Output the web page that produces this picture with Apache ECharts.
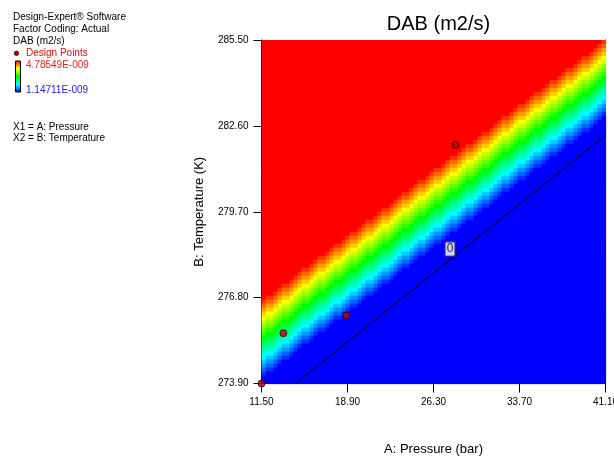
<!DOCTYPE html>
<html>
<head>
<meta charset="utf-8">
<script src="https://cdn.jsdelivr.net/npm/echarts@6/dist/echarts.min.js"></script>
<style>
html,body{margin:0;padding:0;background:#fff;}
#chart{width:614px;height:456px;}
</style>
</head>
<body>
<div id="chart"></div>
<script>
// ---- data ----
const pressureTicks = [11.5, 18.9, 26.3, 33.7, 41.1];          // A: Pressure (bar)
const temperatureTicks = [273.9, 276.8, 279.7, 282.6, 285.5];   // B: Temperature (K)
const dabMin = 1.14711e-9;
const dabMax = 4.78549e-9;
const gridCols = 86;
const gridRows = 86;
// colour level codes 0 (blue, <= min) .. K (red, >= max)
const levelCodes = "0123456789ABCDEFGHIJK";
// one entry per cell row, top (285.5 K) to bottom (273.9 K):
// "<number of red cells>|<graded cells>", the rest of the row is blue
const surfaceRows = [
"85|J",
"84|JI","83|JIH","82|JIHG","80|JJIHGF","79|JIIHGFE","78|JIHHGFED","76|JJIHGGFEDC","75|JIIHGFFEDCB",
"74|JIHHGFEEDCBA","72|JJIHGGFEDDCBA9","71|JIIHGFFEDCCBA98","70|JIHHGFEEDCBBA987","68|JJIHGGFEDDCBAA9876",
"67|JIIHGFFEDCCBA998765","66|JIHHGFEEDCBBA9887654","64|JJIHGGFEDDCBAA98776543","63|JIIHGFFEDCCBA9987665432",
"62|JIHHGFEEDCBBA98876554321","60|JJIHGGFEDDCBAA98776544321","59|JIIHGFFEDCCBA998766543321",
"58|JIHHGFEEDCBBA988765543221","57|JIHGGFEDDCBAA987765443211","55|JJIHGFFEDCCBA998766543321",
"54|JIIHGFEEDCBBA988765543221","53|JIHHGFEDDCBAA987765443211","51|JJIHGGFEDCCBA998766543321",
"50|JIIHGFFEDCBBA988765543221","49|JIHHGFEEDCBAA987765443211","47|JJIHGGFEDDCBA998766543321",
"46|JIIHGFFEDCCBA988765543221","45|JIHHGFEEDCBBA987765443211","43|JJIHGGFEDDCBAA98766543321",
"42|JIIHGFFEDCCBA998765543221","41|JIHHGFEEDCBBA988765443211","39|JJIHGGFEDDCBAA98776543321",
"38|JIIHGFFEDCCBA998766543221","37|JIHHGFEEDCBBA988765543211","35|JJIHGGFEDDCBAA98776544321",
"34|JIIHGFFEDCCBA998766543321","33|JIHHGFEEDCBBA988765543221","32|JIHGGFEDDCBAA987765443211",
"30|JJIHGFFEDCCBA998766543321","29|JIIHGFEEDCBBA988765543221","28|JIHHGFEDDCBAA987765443211",
"26|JJIHGGFEDCCBA998766543321","25|JIIHGFFEDCBBA988765543221","24|JIHHGFEEDCBAA987765443211",
"22|JJIHGGFEDDCBA998766543321","21|JIIHGFFEDCCBA988765543221","20|JIHHGFEEDCBBA987765443211",
"18|JJIHGGFEDDCBAA98766543321","17|JIIHGFFEDCCBA998765543221","16|JIHHGFEEDCBBA988765443211",
"14|JJIHGGFEDDCBAA98776543321","13|JIIHGFFEDCCBA998766543221","12|JIHHGFEEDCBBA988765543211",
"10|JJIHGGFEDDCBAA98776544321","9|JIIHGFFEDCCBA998766543321","8|JIHHGFEEDCBBA988765543221",
"7|JIHGGFEDDCBAA987765443211","5|JJIHGFFEDCCBA998766543321","4|JIIHGFEEDCBBA988765543221",
"3|JIHHGFEDDCBAA987765443211","1|JJIHGGFEDCCBA998766543321","0|JIIHGFFEDCBBA988765543221",
"0|IHHGFEEDCBAA987765443211","0|HGGFEDDCBA998766543321","0|GFFEDCCBA988765543221",
"0|FEEDCBBA987765443211","0|EDDCBAA98766543321","0|DCCBA998765543221","0|CBBA988765443211",
"0|BAA98776543321","0|A998766543221","0|988765543211","0|8776544321","0|766543321",
"0|65543221","0|5443211","0|43321","0|3221","0|211","0|1","0|","0|"
];
const surfaceColors = ['#0000ff', '#00ffff', '#00ff00', '#ffff00', '#ff0000'];
// design points
const designPressure = [11.5, 13.38, 18.8, 28.18];
const designTemperature = [273.9, 275.6, 276.2, 281.96];
// contour line DAB = 0
const contourPressure = [14.44, 41.1];
const contourTemperature = [273.9, 282.29];
const contourLabelPos = [27.72, 278.44];
const contourLabelText = '0';
const legendLines = ['Design-Expert\u00ae Software', 'Factor Coding: Actual', 'DAB (m2/s)'];
const factorLines = ['X1 = A: Pressure', 'X2 = B: Temperature'];

// ---- build chart ----
const FONT = '"Liberation Sans", Arial, Helvetica, sans-serif';
const pMin = pressureTicks[0], pMax = pressureTicks[pressureTicks.length - 1];
const tMin = temperatureTicks[0], tMax = temperatureTicks[temperatureTicks.length - 1];
const cellP = (pMax - pMin) / gridCols;
const cellT = (tMax - tMin) / gridRows;
const maxLevel = levelCodes.length - 1;

const cells = [];
surfaceRows.forEach(function (row, r) {
  const parts = row.split('|');
  const red = parseInt(parts[0], 10);
  const mid = parts[1];
  for (let c = 0; c < gridCols; c++) {
    let level;
    if (c < red) level = maxLevel;
    else if (c - red < mid.length) level = levelCodes.indexOf(mid[c - red]);
    else level = 0;
    const v = dabMin + (dabMax - dabMin) * level / maxLevel;
    cells.push([pMin + (c + 0.5) * cellP, tMax - (r + 0.5) * cellT, v]);
  }
});

const chart = echarts.init(document.getElementById('chart'), null, {renderer: 'canvas'});

const graphics = [];
legendLines.forEach(function (t, i) {
  graphics.push({type: 'text', left: 13, top: 12 + i * 12, style: {text: t, fill: '#000', font: '10px ' + FONT}});
});
graphics.push({type: 'circle', shape: {cx: 16.5, cy: 53.3, r: 2.2}, style: {fill: '#c00000', stroke: '#300', lineWidth: 0.8}});
graphics.push({type: 'text', left: 26, top: 48, style: {text: 'Design Points', fill: '#e01010', font: '10px ' + FONT}});
graphics.push({type: 'rect', shape: {x: 15.5, y: 61, width: 5, height: 31},
  style: {fill: {type: 'linear', x: 0, y: 0, x2: 0, y2: 1, colorStops: [
    {offset: 0, color: surfaceColors[4]}, {offset: 0.25, color: surfaceColors[3]},
    {offset: 0.5, color: surfaceColors[2]}, {offset: 0.75, color: surfaceColors[1]},
    {offset: 1, color: surfaceColors[0]}]}, stroke: '#000', lineWidth: 1}});
graphics.push({type: 'text', left: 26, top: 60, style: {text: dabMax.toExponential(5).replace('e-9', 'E-009'), fill: '#ff2020', font: '10px ' + FONT}});
graphics.push({type: 'text', left: 26, top: 85, style: {text: dabMin.toExponential(5).replace('e-9', 'E-009'), fill: '#2020ff', font: '10px ' + FONT}});
factorLines.forEach(function (t, i) {
  graphics.push({type: 'text', left: 13, top: 122 + i * 11, style: {text: t, fill: '#000', font: '10px ' + FONT}});
});

const borderAxis = {type: 'value', axisLine: {show: true, onZero: false, lineStyle: {color: '#000', width: 1}},
  axisTick: {show: false}, axisLabel: {show: false}, splitLine: {show: false}};

chart.setOption({
  animation: false,
  backgroundColor: '#fff',
  title: {text: 'DAB (m2/s)', left: 433.5, top: 9, textAlign: 'center',
    textStyle: {fontSize: 20, fontWeight: 'normal', color: '#000', fontFamily: FONT}},
  grid: {left: 261.5, top: 40, width: 344, height: 343.5, containLabel: false, outerBoundsMode: 'none'},
  graphic: graphics,
  visualMap: {type: 'continuous', show: false, min: dabMin, max: dabMax, dimension: 2, seriesIndex: 0,
    inRange: {color: surfaceColors}},
  xAxis: [{
    type: 'value', min: pMin, max: pMax, position: 'bottom',
    name: 'A: Pressure (bar)', nameLocation: 'middle', nameGap: 59,
    nameTextStyle: {fontSize: 13, color: '#000', fontFamily: FONT},
    axisLine: {show: true, onZero: false, lineStyle: {color: '#000', width: 1}},
    axisTick: {show: true, inside: false, length: 9, lineStyle: {color: '#000'}, customValues: pressureTicks},
    axisLabel: {show: true, margin: 14, fontSize: 10, color: '#000', fontFamily: FONT, customValues: pressureTicks,
      hideOverlap: false, formatter: function (v) { return Number(v).toFixed(2); }},
    splitLine: {show: false}
  }, Object.assign({}, borderAxis, {min: pMin, max: pMax, position: 'top'})],
  yAxis: [{
    type: 'value', min: tMin, max: tMax, position: 'left',
    name: 'B: Temperature (K)', nameLocation: 'middle', nameGap: 56,
    nameTextStyle: {fontSize: 13, color: '#000', fontFamily: FONT},
    axisLine: {show: true, onZero: false, lineStyle: {color: '#000', width: 1}},
    axisTick: {show: true, inside: false, length: 8, lineStyle: {color: '#000'}, customValues: temperatureTicks},
    axisLabel: {show: true, margin: 13, fontSize: 10, color: '#000', fontFamily: FONT, customValues: temperatureTicks,
      formatter: function (v) { return Number(v).toFixed(2); }},
    splitLine: {show: false}
  }, Object.assign({}, borderAxis, {min: tMin, max: tMax, position: 'right'})],
  series: [{
    type: 'custom',
    clip: true,
    data: cells,
    encode: {x: 0, y: 1},
    renderItem: function (params, api) {
      const p = api.value(0), t = api.value(1);
      const a = api.coord([p - cellP / 2, t + cellT / 2]);
      const b = api.coord([p + cellP / 2, t - cellT / 2]);
      return {type: 'rect', shape: {x: a[0], y: a[1], width: b[0] - a[0] + 0.6, height: b[1] - a[1] + 0.6},
        style: {fill: api.visual('color')}};
    },
    z: 1
  }, {
    type: 'line',
    data: contourPressure.map(function (p, i) { return [p, contourTemperature[i]]; }),
    symbol: 'none',
    clip: true,
    lineStyle: {color: '#000', width: 1},
    z: 3
  }, {
    type: 'scatter',
    data: [contourLabelPos],
    symbolSize: 1,
    itemStyle: {color: 'rgba(0,0,0,0)'},
    label: {show: true, position: 'inside', formatter: contourLabelText, fontSize: 12, color: '#000',
      fontFamily: FONT, backgroundColor: '#fff', borderColor: '#555', borderWidth: 1, padding: [1, 1, 0, 1]},
    z: 4
  }, {
    type: 'scatter',
    data: designPressure.map(function (p, i) { return [p, designTemperature[i]]; }),
    symbol: 'circle',
    symbolSize: 7,
    clip: false,
    itemStyle: {color: '#c40000', borderColor: '#200', borderWidth: 1},
    z: 5
  }]
});
</script>
</body>
</html>
